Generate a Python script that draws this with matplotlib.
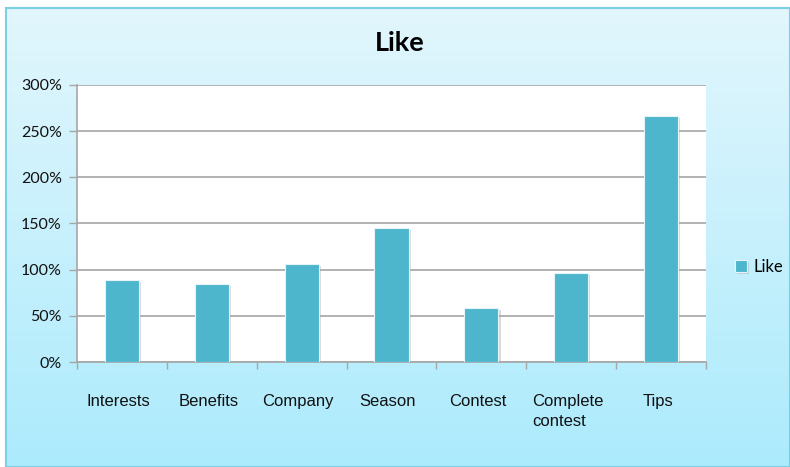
import matplotlib
matplotlib.use("Agg")
import matplotlib.pyplot as plt
import numpy as np
from matplotlib import patheffects as pe
from matplotlib.patches import Rectangle
import matplotlib.transforms as mtrans

categories = ["Interests", "Benefits", "Company", "Season", "Contest", "Complete\ncontest", "Tips"]
values = [89, 85, 106, 145, 59, 96, 266]
yticks = [0, 50, 100, 150, 200, 250, 300]
ytick_labels = ["0%", "50%", "100%", "150%", "200%", "250%", "300%"]
series_name = "Like"

W, H = 790, 467
fig = plt.figure(figsize=(W / 100, H / 100), dpi=100)
fig.patch.set_facecolor("white")

# gradient background panel
bg = fig.add_axes([6 / W, 0, 1 - 6 / W, 1 - 8 / H])
bg.set_axis_off()
top = np.array([226, 246, 253]) / 255
bot = np.array([172, 235, 252]) / 255
t = np.linspace(0, 1, 256)[:, None]
grad = (top[None, :] * (1 - t) + bot[None, :] * t)[:, None, :]
bg.imshow(grad, aspect="auto", extent=[0, 1, 0, 1], origin="upper")
bg.add_patch(Rectangle((0, 0), 1, 1, transform=bg.transAxes, fill=False,
                       edgecolor="#7ACFE3", linewidth=1.5, clip_on=False))
bg.set_xlim(0, 1)
bg.set_ylim(0, 1)

left, right, ytop, ybot = 77, 706, 85, 362
ax = fig.add_axes([left / W, 1 - ybot / H, (right - left) / W, (ybot - ytop) / H])
ax.set_facecolor("white")
x = np.arange(len(categories))
bars = ax.bar(x, values, width=0.38, color="#4DB6CD", edgecolor="#E6F4F8",
              linewidth=0.8, label=series_name, zorder=3)
for b in bars:
    b.set_path_effects([pe.SimplePatchShadow(offset=(1.5, -1.5), shadow_rgbFace="#999999", alpha=0.35),
                        pe.Normal()])

ax.set_xlim(-0.5, len(categories) - 0.5)
ax.set_ylim(0, 300)
ax.set_yticks(yticks)
ax.set_yticklabels(ytick_labels, fontfamily="Lato", fontsize=11.5, color="#111111")
ax.yaxis.grid(True, color="#A6A6A6", linewidth=1.2, zorder=0)
ax.set_axisbelow(True)
ax.set_xticks(x)
ax.set_xticklabels(categories, fontfamily="Liberation Sans", fontsize=12, color="#111111",
                   va="top")
ax.tick_params(axis="x", length=0, pad=23)
ax.set_xticks(np.arange(-0.5, len(categories), 1), minor=True)
ax.tick_params(axis="x", which="minor", length=5, color="#A6A6A6", width=1)
ax.tick_params(axis="y", length=6, color="#A6A6A6", width=1, pad=5)
for s in ["top", "right"]:
    ax.spines[s].set_visible(False)
for s in ["left", "bottom"]:
    ax.spines[s].set_color("#A6A6A6")
    ax.spines[s].set_linewidth(1.2)

shift = mtrans.ScaledTranslation(-3.5 / 100, 0, fig.dpi_scale_trans)
for lbl in ax.get_xticklabels():
    lbl.set_ha("center")
    lbl.set_multialignment("left")
    lbl.set_linespacing(1.4)
    lbl.set_transform(lbl.get_transform() + shift)

fig.text(400 / W, 1 - 43 / H, "Like", fontfamily="Lato", fontweight="bold", fontsize=19.5,
         ha="center", va="center")

leg = ax.legend(loc="center left", bbox_to_anchor=(727 / W, 1 - 267 / H),
                bbox_transform=fig.transFigure, frameon=False,
                prop={"family": "Lato", "size": 12}, handlelength=0.7, handleheight=0.7,
                handletextpad=0.4, borderpad=0)

fig.savefig("out.png", dpi=100)
